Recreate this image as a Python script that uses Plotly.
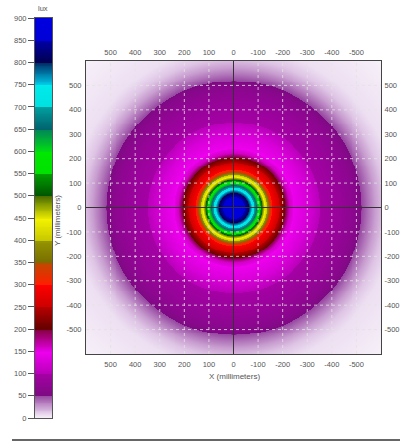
import numpy as np
import plotly.graph_objects as go

# ---- data ----
# radial illuminance profile (distance from centre in mm -> lux)
radius_mm = [0, 30, 50, 62, 70, 78, 86, 95, 103, 110, 117, 125, 133, 140, 148,
             160, 180, 197, 210, 225, 250, 300, 350, 420, 470, 500, 520, 545, 575, 610, 660, 850]
lux_profile = [880, 870, 845, 805, 770, 730, 690, 640, 590, 540, 490, 450, 410, 370, 320,
               290, 260, 225, 195, 160, 145, 128, 100, 85, 72, 62, 50, 38, 25, 14, 6, 1]

axis_ticks = [500, 400, 300, 200, 100, 0, -100, -200, -300, -400, -500]
lux_ticks = list(range(0, 901, 50))

# colour scale stops (lux, colour)
scale_lux = [0, 10, 49.9, 50, 99.9, 100, 149.9, 150, 199.9, 200, 249.9, 250, 299.9, 300,
             349.9, 350, 399.9, 400, 449.9, 450, 499.9, 500, 549.9, 550, 599.9, 600,
             649.9, 650, 699.9, 700, 749.9, 750, 799.9, 800, 849.9, 850, 900]
scale_colors = [
    "rgb(248,244,250)", "rgb(230,210,236)", "rgb(150,70,160)",
    "rgb(125,10,130)", "rgb(165,0,165)",
    "rgb(185,0,185)", "rgb(240,0,240)",
    "rgb(230,0,230)", "rgb(130,0,60)",
    "rgb(100,0,0)", "rgb(185,0,0)",
    "rgb(205,0,0)", "rgb(255,0,0)",
    "rgb(255,30,0)", "rgb(190,75,0)",
    "rgb(120,110,0)", "rgb(150,150,0)",
    "rgb(200,200,0)", "rgb(245,245,0)",
    "rgb(230,230,0)", "rgb(70,105,0)",
    "rgb(0,85,0)", "rgb(0,160,0)",
    "rgb(0,225,0)", "rgb(0,232,0)",
    "rgb(0,220,20)", "rgb(0,130,90)",
    "rgb(0,100,110)", "rgb(0,160,160)",
    "rgb(0,225,225)", "rgb(0,235,235)",
    "rgb(0,200,230)", "rgb(0,40,100)",
    "rgb(0,0,80)", "rgb(0,0,170)",
    "rgb(0,0,215)", "rgb(0,0,225)",
]
colorscale = [[v / 900.0, c] for v, c in zip(scale_lux, scale_colors)]

# ---- grid built from the radial profile ----
gx = np.arange(-600, 601, 4)
gy = np.arange(-600, 601, 4)
XX, YY = np.meshgrid(gx, gy)
RR = np.sqrt(XX ** 2 + YY ** 2)
Z = np.interp(RR, radius_mm, lux_profile)

levels = np.arange(0, 901, 2)

W, H = 400, 442


def fx(px):
    return px / W


def fy(py):
    return 1 - py / H


FONT = "Liberation Sans Narrow, Liberation Sans, Arial, sans-serif"
tick_font = dict(family=FONT, size=7.5, color="#555555")

fig = go.Figure()
fig.add_trace(go.Heatmap(x=gx, y=gy, z=Z, zmin=0, zmax=900, colorscale=colorscale,
                         showscale=False, zsmooth="best", hoverinfo="skip",
                         xaxis="x", yaxis="y"))
fig.add_trace(go.Scatter(x=[None], y=[None], xaxis="x2", yaxis="y2",
                         showlegend=False, hoverinfo="skip"))
fig.add_trace(go.Heatmap(x=[0], y=levels, z=[[v] for v in levels], zmin=0, zmax=900,
                         colorscale=colorscale, showscale=False, hoverinfo="skip",
                         xaxis="x3", yaxis="y3"))

dom_x = [fx(86), fx(381)]
dom_y = [fy(354), fy(61)]

common = dict(tickvals=axis_ticks, ticktext=[str(t) for t in axis_ticks],
              ticks="", showline=True, linecolor="#444444", linewidth=1, mirror=True,
              showgrid=False, zeroline=False, tickfont=tick_font, automargin=False)

fig.update_layout(
    width=W, height=H,
    margin=dict(l=0, r=0, t=0, b=0, autoexpand=False),
    paper_bgcolor="white", plot_bgcolor="white",
    showlegend=False,
    xaxis=dict(domain=dom_x, range=[600, -600], anchor="y", ticklabelstandoff=3, **common),
    yaxis=dict(domain=dom_y, range=[-600, 600], anchor="x", ticklabelstandoff=2, **common),
    xaxis2=dict(domain=dom_x, range=[600, -600], overlaying="x", side="top", anchor="y2",
                ticklabelstandoff=2, **common),
    yaxis2=dict(domain=dom_y, range=[-600, 600], overlaying="y", side="right", anchor="x2",
                ticklabelstandoff=1, **common),
    xaxis3=dict(domain=[fx(35), fx(52)], range=[-0.5, 0.5], anchor="y3",
                showticklabels=False, ticks="", showgrid=False, zeroline=False,
                showline=True, linecolor="#555555", mirror=True, automargin=False),
    yaxis3=dict(domain=[fy(418), fy(18)], range=[0, 900], anchor="x3",
                tickvals=lux_ticks, ticks="outside", ticklen=6, tickcolor="#555555",
                showgrid=False, zeroline=False, showline=True, linecolor="#555555",
                mirror=True, automargin=False, tickfont=tick_font),
)

shapes = []
for t in axis_ticks:
    if t == 0:
        continue
    shapes.append(dict(type="line", xref="x", yref="y domain", x0=t, x1=t, y0=0, y1=1,
                       layer="above", line=dict(color="rgba(228,228,228,0.8)", width=1, dash="dot")))
    shapes.append(dict(type="line", xref="x domain", yref="y", x0=0, x1=1, y0=t, y1=t,
                       layer="above", line=dict(color="rgba(228,228,228,0.8)", width=1, dash="dot")))
shapes.append(dict(type="line", xref="x", yref="y domain", x0=0, x1=0, y0=0, y1=1,
                   layer="above", line=dict(color="#333333", width=1)))
shapes.append(dict(type="line", xref="x domain", yref="y", x0=0, x1=1, y0=0, y1=0,
                   layer="above", line=dict(color="#333333", width=1)))
shapes.append(dict(type="line", xref="paper", yref="paper", x0=fx(12), x1=1, y0=fy(440), y1=fy(440),
                   line=dict(color="#666666", width=2)))
fig.update_layout(shapes=shapes)

fig.add_annotation(text="lux", xref="paper", yref="paper", x=fx(43), y=fy(8),
                   xanchor="center", yanchor="middle",
                   showarrow=False, font=dict(family=FONT, size=7.5, color="#555555"))
fig.add_annotation(text="X (millimeters)", xref="paper", yref="paper", x=fx(234),
                   y=fy(376), xanchor="center", yanchor="middle",
                   showarrow=False, font=dict(family=FONT, size=8, color="#555555"))
fig.add_annotation(text="Y (millimeters)", xref="paper", yref="paper", x=fx(57),
                   y=fy(220), xanchor="center", yanchor="middle", textangle=-90,
                   showarrow=False, font=dict(family=FONT, size=8, color="#555555"))

fig.write_html("out.html", config={"displayModeBar": False},
               post_script="document.body.style.margin='0px';")
